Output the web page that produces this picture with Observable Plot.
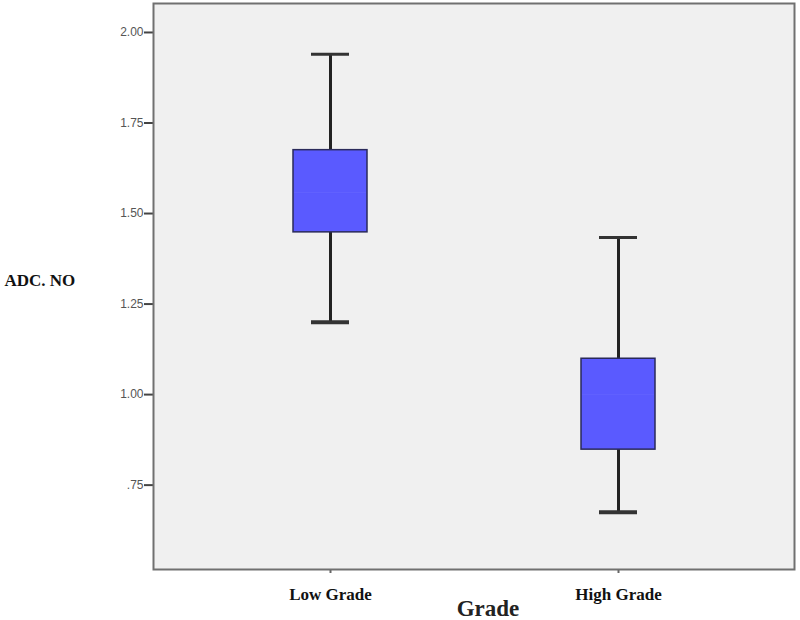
<!DOCTYPE html>
<html>
<head>
<meta charset="utf-8">
<script src="https://cdn.jsdelivr.net/npm/d3@7"></script>
<script src="https://cdn.jsdelivr.net/npm/@observablehq/plot@0.6"></script>
<style>
  html, body { margin: 0; padding: 0; background: #ffffff; }
  #chart { width: 800px; height: 620px; }
</style>
</head>
<body>
<div id="chart"></div>
<script>
const grades = ["Low Grade", "High Grade"];
const whiskerLow = [1.20, 0.675];
const q1 = [1.448, 0.848];
const median = [1.558, 1.00];
const q3 = [1.675, 1.099];
const whiskerHigh = [1.94, 1.434];
const yTicks = [0.75, 1.00, 1.25, 1.50, 1.75, 2.00];
const yTickLabels = [".75", "1.00", "1.25", "1.50", "1.75", "2.00"];
const yLabel = "ADC. NO";
const xLabel = "Grade";

const rows = grades.map((g, i) => ({
  grade: g, lo: whiskerLow[i], q1: q1[i], med: median[i], q3: q3[i], hi: whiskerHigh[i]
}));
const tickLabelOf = new Map(yTicks.map((t, i) => [t, yTickLabels[i]]));

const serif = "'Liberation Serif', 'DejaVu Serif', serif";
const sans = "'Liberation Sans', Arial, sans-serif";

const plot = Plot.plot({
  width: 800,
  height: 620,
  marginLeft: 153,
  marginRight: 6,
  marginTop: 3,
  marginBottom: 51,
  style: { background: "#ffffff", fontFamily: sans },
  x: { domain: grades, paddingInner: 0.744, paddingOuter: 0.481 },
  y: { domain: [0.517, 2.08] },
  marks: [
    Plot.frame({ fill: "#f0f0f0", stroke: "none" }),
    // whiskers
    Plot.ruleX(rows, { x: "grade", y1: "lo", y2: "q1", stroke: "#222", strokeWidth: 3 }),
    Plot.ruleX(rows, { x: "grade", y1: "q3", y2: "hi", stroke: "#222", strokeWidth: 3 }),
    // caps
    Plot.tickY(rows, { x: "grade", y: "lo", stroke: "#333", strokeWidth: 4, insetLeft: 18, insetRight: 18 }),
    Plot.tickY(rows, { x: "grade", y: "hi", stroke: "#333", strokeWidth: 3, insetLeft: 18, insetRight: 18 }),
    // boxes
    Plot.barY(rows, { x: "grade", y1: "q1", y2: "q3", fill: "#5a5aff", stroke: "#2a2a5a", strokeWidth: 1.5 }),
    // median (nearly invisible as in reference)
    Plot.tickY(rows, { x: "grade", y: "med", stroke: "#6262ff", strokeWidth: 1, insetLeft: 1, insetRight: 1 }),
    // axes
    Plot.axisY({
      ticks: yTicks,
      tickFormat: d => tickLabelOf.get(d),
      tickSize: 9,
      tickPadding: 1,
      stroke: "#444",
      strokeWidth: 2,
      fill: "#555",
      fontSize: 12,
      fontFamily: sans,
      label: null
    }),
    Plot.axisX({
      tickSize: 4,
      tickPadding: 14,
      stroke: "#666",
      strokeWidth: 2,
      fill: "#111",
      fontSize: 17,
      fontWeight: "bold",
      fontFamily: serif,
      label: null
    }),
    Plot.frame({ stroke: "#707070", strokeWidth: 2 }),
    Plot.text([yLabel], {
      frameAnchor: "left", dx: -149, dy: -6, text: d => d, textAnchor: "start",
      fontSize: 17, fontWeight: "bold", fontFamily: serif, fill: "#111"
    }),
    Plot.text([xLabel], {
      frameAnchor: "bottom", dx: 14, dy: 46, text: d => d,
      fontSize: 23, fontWeight: "bold", fontFamily: serif, fill: "#222"
    })
  ]
});
document.getElementById("chart").appendChild(plot);
</script>
</body>
</html>
